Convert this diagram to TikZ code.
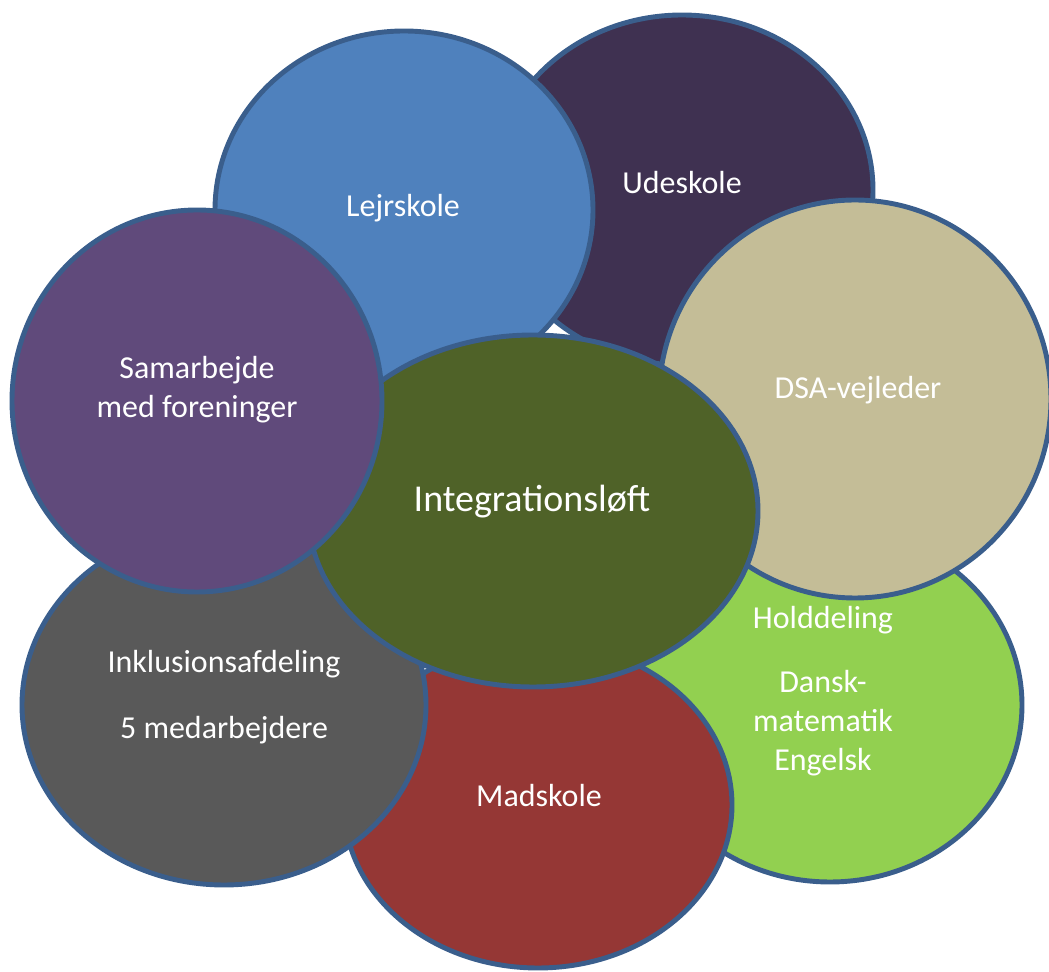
\documentclass[tikz,border=0pt]{standalone}
\usepackage{fontspec}
\setmainfont{Carlito}

\definecolor{bubbleline}{HTML}{3A5E8C}
\definecolor{udecol}{HTML}{3F3151}
\definecolor{lejrcol}{HTML}{4F81BD}
\definecolor{holdcol}{HTML}{92D050}
\definecolor{madcol}{HTML}{953735}
\definecolor{inklcol}{HTML}{595959}
\definecolor{dsacol}{HTML}{C4BD97}
\definecolor{integcol}{HTML}{4F6228}
\definecolor{samcol}{HTML}{604A7B}

\tikzset{
    bubble/.style = {draw = bubbleline, line width = 2.8pt},
    bubbletext/.style = {text = white, align = center, inner sep = 0pt,
        font = \fontsize{18.2}{22.1}\selectfont},
}

\begin{document}
\begin{tikzpicture}[x = 0.02cm, y = -0.02cm]
            \useasboundingbox (0,0) rectangle (1049,972);
            % bubbles, back to front
            \foreach \cx/\cy/\rx/\ry/\col in {
                682/190/191/175/udecol,
                404/210/189/179/lejrcol,
                830/705/192/177/holdcol,
                538/805/194/163/madcol,
                224/705/202/180/inklcol,
                855/399/196/199/dsacol,
                533/511/225/176/integcol,
                197/401/185/191/samcol} {
                \draw [bubble, fill = \col]
                (\cx,\cy) ellipse [x radius = \rx, y radius = \ry]
                ;
            }
            % labels
            \node [bubbletext] (ude) at (682,183) {Udeskole};
            \node [bubbletext] (lejr) at (403,208) {Lejrskole};
            \node [bubbletext] (dsa) at (858,390) {DSA-vejleder};
            \node [bubbletext] (sam) at (197,390) {Samarbejde\\med foreninger};
            \node [bubbletext, font = \fontsize{21.6}{27}\selectfont]
                (integ) at (532,502) {Integrationsløft};
            \node [bubbletext] (inkl) at (224,697)
                {Inklusionsafdeling\\[15.4pt]5 medarbejdere};
            \node [bubbletext] (hold) at (823,691)
                {Holddeling\\[14.8pt]Dansk-\\matematik\\Engelsk};
            \node [bubbletext] (mad) at (539,796) {Madskole};
        \end{tikzpicture}
\end{document}
